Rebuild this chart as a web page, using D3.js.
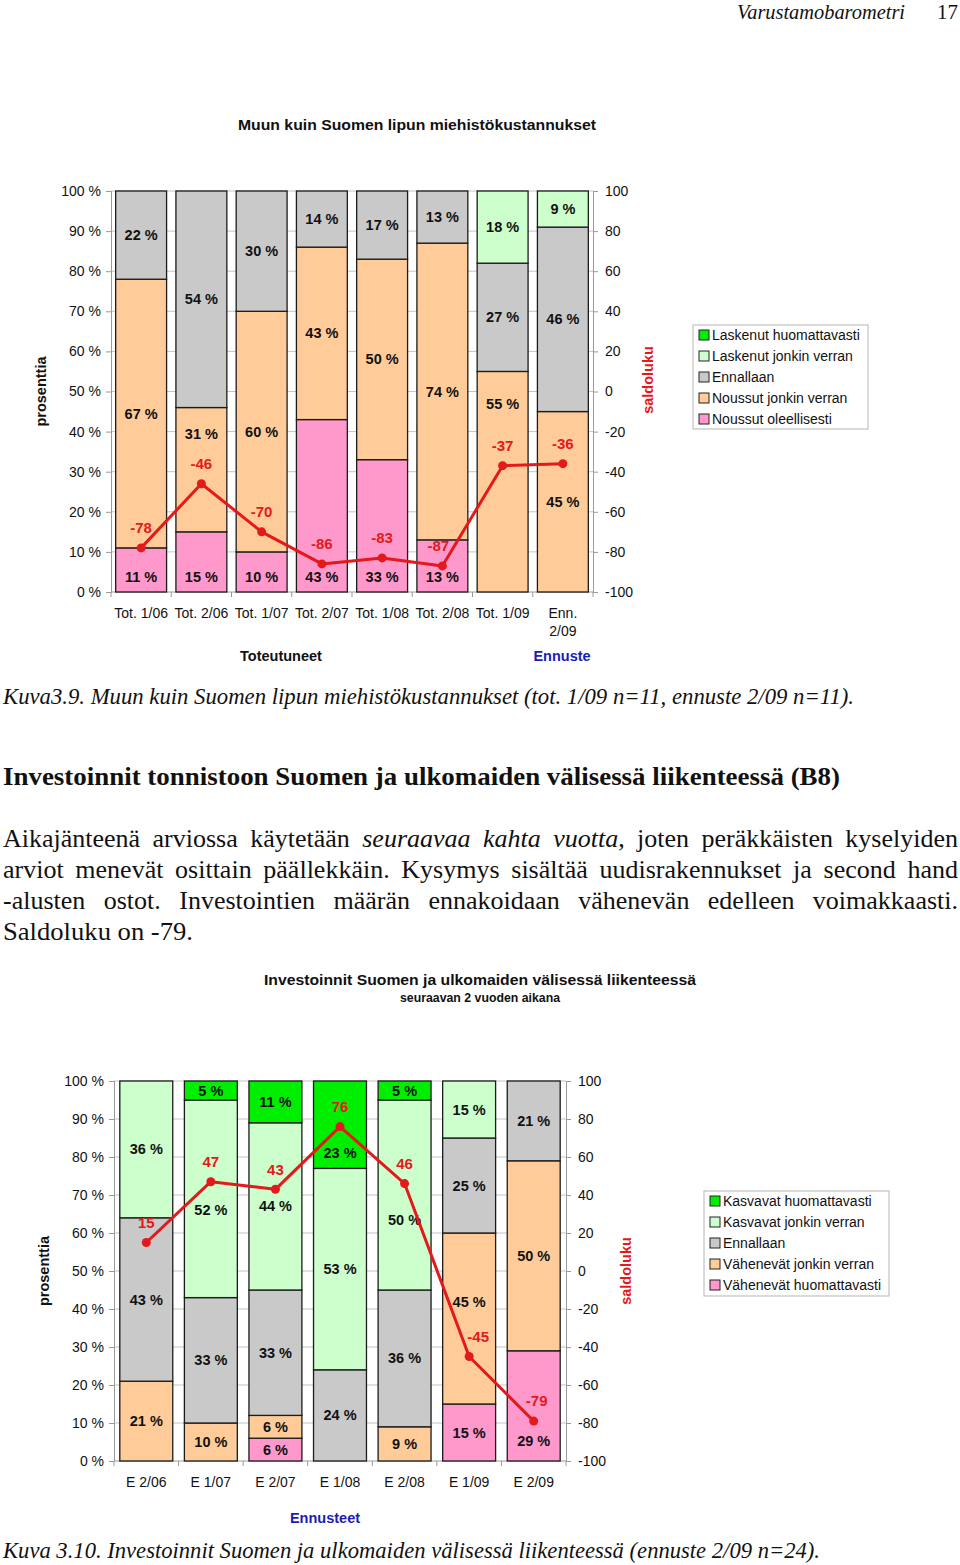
<!DOCTYPE html>
<html><head><meta charset="utf-8">
<script src="https://cdn.jsdelivr.net/npm/d3@7"></script>
<style>body{margin:0;background:#fff} svg{display:block}</style>
</head><body>
<svg id="page" width="960" height="1565"></svg>
<script>
// ---------- Chart 1 data ----------
const cats1 = ["Tot. 1/06","Tot. 2/06","Tot. 1/07","Tot. 2/07","Tot. 1/08","Tot. 2/08","Tot. 1/09","Enn. 2/09"];
const names1 = ["Laskenut huomattavasti","Laskenut jonkin verran","Ennallaan","Noussut jonkin verran","Noussut oleellisesti"];
const green1  = [0,0,0,0,0,0,0,0];
const lgreen1 = [0,0,0,0,0,0,18,9];
const gray1   = [22,54,30,14,17,13,27,46];
const peach1  = [67,31,60,43,50,74,55,45];
const pink1   = [11,15,10,43,33,13,0,0];
const saldo1  = [-78,-46,-70,-86,-83,-87,-37,-36];
// label anchors (in % units) where the original moved a label off the segment centre
const labelAt1 = {"pink|*":3.7,"peach|Tot. 2/06":39.4,"peach|Tot. 1/09":46.9};

// ---------- Chart 2 data ----------
const cats2 = ["E 2/06","E 1/07","E 2/07","E 1/08","E 2/08","E 1/09","E 2/09"];
const names2 = ["Kasvavat huomattavasti","Kasvavat jonkin verran","Ennallaan","Vähenevät jonkin verran","Vähenevät huomattavasti"];
const green2  = [0,5,11,23,5,0,0];
const lgreen2 = [36,52,44,53,50,15,0];
const gray2   = [43,33,33,24,36,25,21];
const peach2  = [21,10,6,0,9,45,50];
const pink2   = [0,0,6,0,0,15,29];
const saldo2  = [15,47,43,76,46,-45,-79];
const labelAt2 = {"lgreen|E 1/07":66,"green|E 1/08":81,"lgreen|E 2/08":63.4,"peach|E 1/09":41.8,"pink|E 2/09":5.3};

const yTicksPct = [0,10,20,30,40,50,60,70,80,90,100];
const yTicksSaldo = [-100,-80,-60,-40,-20,0,20,40,60,80,100];

// ---------- styles ----------
const SANS = "'Liberation Sans', Arial, sans-serif";
const SERIF = "'Liberation Serif', 'Times New Roman', serif";
const COL = {green:"#00ee00", lgreen:"#ccffcc", gray:"#c9c9c9", peach:"#ffcc99", pink:"#ff99cc"};
const RED = "#e3191c", BLUE = "#1c1cb4";

const svg = d3.select("#page");

function drawChart(cfg){
  const g = svg.append("g");
  const {left,right,top,bottom} = cfg;
  const x = d3.scaleBand().domain(cfg.cats).range([left,right]).paddingInner(cfg.pad).paddingOuter(cfg.pad/2);
  const y = d3.scaleLinear().domain([0,100]).range([bottom,top]);
  const y2 = d3.scaleLinear().domain([-100,100]).range([bottom,top]);

  // gridlines
  g.append("g").selectAll("line").data(yTicksPct.filter(d=>d>0)).join("line")
    .attr("x1",left).attr("x2",right).attr("y1",d=>y(d)).attr("y2",d=>y(d))
    .attr("stroke","#c4c4c4").attr("stroke-width",1);

  // axes
  const ax = g.append("g").attr("transform",`translate(${left},0)`)
    .call(d3.axisLeft(y).tickValues(yTicksPct).tickFormat(d=>d+" %").tickSize(5).tickPadding(5));
  const ax2 = g.append("g").attr("transform",`translate(${right},0)`)
    .call(d3.axisRight(y2).tickValues(yTicksSaldo).tickFormat(d=>String(d)).tickSize(5).tickPadding(7));
  const bounds = cfg.cats.map(c=>x(c)-x.step()*x.paddingInner()/2).concat([right]);
  const axb = g.append("g");
  axb.append("line").attr("x1",left).attr("x2",right).attr("y1",bottom).attr("y2",bottom).attr("stroke","#9a9a9a");
  axb.selectAll("line.t").data(bounds).join("line").attr("class","t")
    .attr("x1",d=>d).attr("x2",d=>d).attr("y1",bottom).attr("y2",bottom+5).attr("stroke","#9a9a9a");
  [ax,ax2].forEach(a=>{
    a.selectAll("path.domain").attr("stroke","#9a9a9a");
    a.selectAll(".tick line").attr("stroke","#9a9a9a");
    a.selectAll("text").attr("font-family",SANS).attr("font-size",14).attr("fill","#111");
  });

  // stacked bars
  const layers = cfg.layers; // bottom -> top
  cfg.cats.forEach((c,i)=>{
    let cum = 0;
    layers.forEach(L=>{
      const v = L.values[i];
      if(v<=0) return;
      g.append("rect").attr("x",x(c)).attr("y",y(cum+v)).attr("width",x.bandwidth()).attr("height",y(cum)-y(cum+v))
        .attr("fill",COL[L.key]).attr("stroke","#1b1b1b").attr("stroke-width",1.3);
      let at = cum + v/2;
      if(cfg.labelAt[L.key+"|"+c]!==undefined) at = cfg.labelAt[L.key+"|"+c];
      else if(cfg.labelAt[L.key+"|*"]!==undefined) at = cfg.labelAt[L.key+"|*"];
      g.append("text").attr("x",x(c)+x.bandwidth()/2).attr("y",y(at)).attr("dy","0.35em")
        .attr("text-anchor","middle").attr("font-family",SANS).attr("font-weight","bold").attr("font-size",14.5)
        .attr("fill","#111").text(v+" %");
      cum += v;
    });
  });

  // saldo line
  const pts = cfg.cats.map((c,i)=>[x(c)+x.bandwidth()/2, y2(cfg.saldo[i])]);
  g.append("path").attr("d",d3.line()(pts)).attr("fill","none").attr("stroke",RED).attr("stroke-width",3).attr("stroke-linejoin","round");
  g.selectAll("circle.s").data(pts).join("circle").attr("class","s").attr("cx",d=>d[0]).attr("cy",d=>d[1]).attr("r",4.5).attr("fill",RED);
  g.selectAll("text.s").data(pts).join("text").attr("class","s")
    .attr("x",(d,i)=>d[0]+((cfg.saldoShift||{})[cfg.cats[i]]||0)).attr("y",d=>d[1]-20).attr("dy","0.35em")
    .attr("text-anchor","middle").attr("font-family",SANS).attr("font-weight","bold").attr("font-size",15).attr("fill",RED)
    .text((d,i)=>String(cfg.saldo[i]));

  // category labels
  cfg.cats.forEach(c=>{
    const t = g.append("text").attr("x",x(c)+x.bandwidth()/2).attr("y",cfg.xLabelY).attr("text-anchor","middle")
      .attr("font-family",SANS).attr("font-size",14).attr("fill","#111");
    if(cfg.wrap && cfg.wrap.includes(c)){
      c.split(" ").forEach((w,k)=>t.append("tspan").attr("x",x(c)+x.bandwidth()/2).attr("dy",k===0?"0.35em":"18").text(w));
    } else t.attr("dy","0.35em").text(c);
  });

  // axis titles
  g.append("text").attr("transform",`translate(${cfg.protX},${(top+bottom)/2}) rotate(-90)`).attr("dy","0.35em")
    .attr("text-anchor","middle").attr("font-family",SANS).attr("font-weight","bold").attr("font-size",14.5).attr("fill","#111").text("prosenttia");
  g.append("text").attr("transform",`translate(${cfg.saldoX},${cfg.saldoY}) rotate(-90)`).attr("dy","0.35em")
    .attr("text-anchor","middle").attr("font-family",SANS).attr("font-weight","bold").attr("font-size",14.5).attr("fill",RED).text("saldoluku");

  // legend
  const lg = g.append("g").attr("transform",`translate(${cfg.legend.x},${cfg.legend.y})`);
  lg.append("rect").attr("width",cfg.legend.w).attr("height",cfg.legend.h).attr("fill","#fff").attr("stroke","#b5b5b5");
  const order = layers.slice().reverse();
  order.forEach((L,k)=>{
    const yy = 10 + k*21;
    lg.append("rect").attr("x",6).attr("y",yy-5).attr("width",10).attr("height",10).attr("fill",COL[L.key]).attr("stroke","#222").attr("stroke-width",1);
    lg.append("text").attr("x",19).attr("y",yy).attr("dy","0.35em").attr("font-family",SANS).attr("font-size",14).attr("fill","#111").text(L.name);
  });
  return {x,y,y2,g};
}

// ---------- page header ----------
function fit(t, target){
  const w = t.node().getComputedTextLength();
  if(Math.abs(w-target)>1) t.attr("textLength",target).attr("lengthAdjust","spacingAndGlyphs");
  return t;
}
fit(svg.append("text").attr("x",737).attr("y",19).attr("font-family",SERIF).attr("font-style","italic").attr("font-size",21).attr("fill","#111").text("Varustamobarometri"),168);
svg.append("text").attr("x",958).attr("y",19).attr("text-anchor","end").attr("font-family",SERIF).attr("font-size",21).attr("fill","#111").text("17");

// ---------- Chart 1 ----------
fit(svg.append("text").attr("x",238).attr("y",125).attr("dy","0.35em").attr("font-family",SANS)
  .attr("font-weight","bold").attr("font-size",15.5).attr("fill","#111").text("Muun kuin Suomen lipun miehistökustannukset"),358);
const c1 = drawChart({
  cats:cats1, left:111, right:593, top:191, bottom:592, pad:0.155, xLabelY:613, wrap:["Enn. 2/09"],
  layers:[{key:"pink",name:names1[4],values:pink1},{key:"peach",name:names1[3],values:peach1},{key:"gray",name:names1[2],values:gray1},
          {key:"lgreen",name:names1[1],values:lgreen1},{key:"green",name:names1[0],values:green1}],
  saldo:saldo1, labelAt:labelAt1, protX:41, saldoX:648, saldoY:380, saldoShift:{"Tot. 2/08":-4},
  legend:{x:693,y:325,w:175,h:104}
});
c1.g.append("text").attr("x",281).attr("y",656).attr("dy","0.35em").attr("text-anchor","middle").attr("font-family",SANS)
  .attr("font-weight","bold").attr("font-size",14.5).attr("fill","#111").text("Toteutuneet");
c1.g.append("text").attr("x",562).attr("y",656).attr("dy","0.35em").attr("text-anchor","middle").attr("font-family",SANS)
  .attr("font-weight","bold").attr("font-size",14.5).attr("fill",BLUE).text("Ennuste");

// ---------- caption / text ----------
fit(svg.append("text").attr("x",3).attr("y",704).attr("font-family",SERIF).attr("font-style","italic").attr("font-size",23.5).attr("fill","#111")
  .text("Kuva3.9.  Muun kuin Suomen lipun miehistökustannukset (tot. 1/09 n=11, ennuste 2/09 n=11)."),851);
fit(svg.append("text").attr("x",3).attr("y",785).attr("font-family",SERIF).attr("font-weight","bold").attr("font-size",25.5).attr("fill","#111")
  .text("Investoinnit tonnistoon Suomen ja ulkomaiden välisessä liikenteessä (B8)"),837);

const paraLines = [
  [["Aikajänteenä arviossa käytetään ",false],["seuraavaa kahta vuotta",true],[", joten peräkkäisten kyselyiden",false]],
  [["arviot menevät osittain päällekkäin. Kysymys sisältää uudisrakennukset ja second hand",false]],
  [["-alusten ostot. Investointien määrän ennakoidaan vähenevän edelleen voimakkaasti.",false]],
  [["Saldoluku on -79.",false]]
];
paraLines.forEach((parts,k)=>{
  const t = svg.append("text").attr("x",3).attr("y",847+k*31).attr("font-family",SERIF).attr("font-size",26).attr("fill","#111");
  parts.forEach(p=>t.append("tspan").attr("font-style",p[1]?"italic":"normal").text(p[0]));
  const w = t.node().getComputedTextLength();
  if(k<3){
    const full = parts.map(p=>p[0]).join("");
    const spaces = (full.match(/ /g)||[]).length;
    const ws = (955 - w)/spaces;
    if(ws>=0) t.attr("word-spacing",ws);
    else t.attr("textLength",955).attr("lengthAdjust","spacingAndGlyphs");
  } else fit(t,190);
});

// ---------- Chart 2 ----------
fit(svg.append("text").attr("x",264).attr("y",980).attr("dy","0.35em").attr("font-family",SANS)
  .attr("font-weight","bold").attr("font-size",15.5).attr("fill","#111").text("Investoinnit Suomen ja ulkomaiden välisessä liikenteessä"),432);
fit(svg.append("text").attr("x",400).attr("y",998).attr("dy","0.35em").attr("font-family",SANS)
  .attr("font-weight","bold").attr("font-size",12.2).attr("fill","#111").text("seuraavan 2 vuoden aikana"),160);
const c2 = drawChart({
  cats:cats2, left:114, right:566, top:1081, bottom:1461, pad:0.18, xLabelY:1482,
  layers:[{key:"pink",name:names2[4],values:pink2},{key:"peach",name:names2[3],values:peach2},{key:"gray",name:names2[2],values:gray2},
          {key:"lgreen",name:names2[1],values:lgreen2},{key:"green",name:names2[0],values:green2}],
  saldo:saldo2, labelAt:labelAt2, protX:44, saldoX:626, saldoY:1271, saldoShift:{"E 1/09":9,"E 2/09":3},
  legend:{x:704,y:1191,w:185,h:105}
});
c2.g.append("text").attr("x",325).attr("y",1518).attr("dy","0.35em").attr("text-anchor","middle").attr("font-family",SANS)
  .attr("font-weight","bold").attr("font-size",14.5).attr("fill",BLUE).text("Ennusteet");
fit(svg.append("text").attr("x",3).attr("y",1558).attr("font-family",SERIF).attr("font-style","italic").attr("font-size",23.5).attr("fill","#111")
  .text("Kuva 3.10.  Investoinnit Suomen ja ulkomaiden välisessä liikenteessä (ennuste 2/09 n=24)."),817);
</script>
</body></html>
